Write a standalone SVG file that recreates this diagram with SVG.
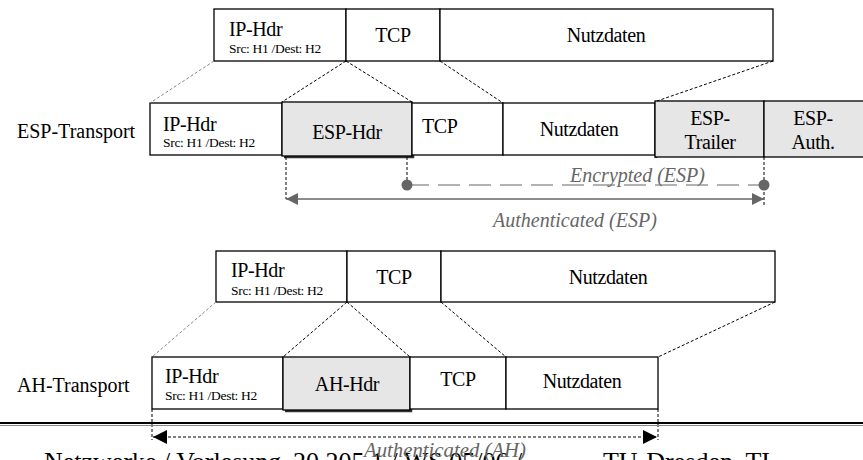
<svg xmlns="http://www.w3.org/2000/svg" width="863" height="460" viewBox="0 0 863 460">
<style>
  .box { fill: #ffffff; stroke: #000; stroke-width: 1.3; }
  .gbox { fill: #e6e6e6; stroke: #000; stroke-width: 1.3; }
  .shadow { fill: none; stroke: #333; stroke-width: 2.5; }
  .t { font-family: "Liberation Serif", "DejaVu Serif", serif; fill: #000; }
  .big { font-size: 20px; letter-spacing: -0.4px; }
  .small { font-size: 13.5px; letter-spacing: -0.3px; }
  .lbl { font-size: 20px; }
  .foot { font-size: 26px; }
  .it { font-family: "Liberation Serif", "DejaVu Serif", serif; font-style: italic; fill: #666; font-size: 20px; }
  .map1 { stroke: #888; stroke-width: 1; stroke-dasharray: 3 2; fill: none; }
  .map2 { stroke: #000; stroke-width: 1; stroke-dasharray: 3 2; fill: none; }
  .vdot { stroke: #000; stroke-width: 1; stroke-dasharray: 3 2; fill: none; }
</style>
<defs>
  <marker id="ga" viewBox="0 0 10 10" refX="10" refY="5" markerWidth="18" markerHeight="12" markerUnits="userSpaceOnUse" orient="auto-start-reverse">
    <path d="M0,0 L10,5 L0,10 Z" fill="#666"/>
  </marker>
  <marker id="ba" viewBox="0 0 10 10" refX="10" refY="5" markerWidth="18" markerHeight="14" markerUnits="userSpaceOnUse" orient="auto-start-reverse">
    <path d="M0,0 L10,5 L0,10 Z" fill="#000"/>
  </marker>
</defs>

<!-- ESP original packet -->
<g id="esp-orig">
  <rect class="box" x="214" y="9" width="132" height="52"/>
  <rect class="box" x="346" y="9" width="94" height="52"/>
  <rect class="box" x="440" y="9" width="333" height="52"/>
  <text class="t big" x="229" y="36">IP-Hdr</text>
  <text class="t small" x="229" y="53">Src: H1 /Dest: H2</text>
  <text class="t big" x="393" y="42" text-anchor="middle">TCP</text>
  <text class="t big" x="606" y="42" text-anchor="middle">Nutzdaten</text>
</g>

<!-- ESP transport packet -->
<g id="esp-label">
  <text class="t lbl" x="17" y="138">ESP-Transport</text>
</g>
<g id="esp-pkt">
  <rect class="box" x="150" y="103" width="132" height="52"/>
  <path class="shadow" d="M284,157 H413 V104"/>
  <rect class="gbox" x="282" y="102" width="130" height="54"/>
  <rect class="box" x="412" y="103" width="91" height="52"/>
  <rect class="box" x="503" y="103" width="152" height="52"/>
  <path class="shadow" d="M656,101 V158"/>
  <rect class="gbox" x="655" y="101" width="109" height="56"/>
  <rect class="gbox" x="764" y="101" width="100" height="56"/>
  <text class="t big" x="163" y="131">IP-Hdr</text>
  <text class="t small" x="163" y="147">Src: H1 /Dest: H2</text>
  <text class="t big" x="347" y="139" text-anchor="middle">ESP-Hdr</text>
  <text class="t big" x="422" y="133">TCP</text>
  <text class="t big" x="579" y="136" text-anchor="middle">Nutzdaten</text>
  <text class="t big" x="710" y="125" text-anchor="middle">ESP-</text>
  <text class="t big" x="710" y="149" text-anchor="middle">Trailer</text>
  <text class="t big" x="813" y="125" text-anchor="middle">ESP-</text>
  <text class="t big" x="813" y="149" text-anchor="middle">Auth.</text>
</g>

<!-- AH original packet -->
<g id="ah-orig">
  <rect class="box" x="216" y="251" width="131" height="51"/>
  <rect class="box" x="347" y="251" width="94" height="51"/>
  <rect class="box" x="441" y="251" width="334" height="51"/>
  <text class="t big" x="231" y="277">IP-Hdr</text>
  <text class="t small" x="231" y="295">Src: H1 /Dest: H2</text>
  <text class="t big" x="394" y="284" text-anchor="middle">TCP</text>
  <text class="t big" x="608" y="284" text-anchor="middle">Nutzdaten</text>
</g>

<!-- AH transport packet -->
<g id="ah-label">
  <text class="t lbl" x="17" y="392">AH-Transport</text>
</g>
<g id="ah-pkt">
  <rect class="box" x="152" y="357" width="131" height="52"/>
  <path class="shadow" d="M285,411 H411 V359"/>
  <rect class="gbox" x="283" y="357" width="127" height="53"/>
  <rect class="box" x="410" y="357" width="96" height="52"/>
  <rect class="box" x="506" y="357" width="152" height="52"/>
  <text class="t big" x="165" y="383">IP-Hdr</text>
  <text class="t small" x="165" y="400">Src: H1 /Dest: H2</text>
  <text class="t big" x="347" y="391" text-anchor="middle">AH-Hdr</text>
  <text class="t big" x="458" y="386" text-anchor="middle">TCP</text>
  <text class="t big" x="582" y="388" text-anchor="middle">Nutzdaten</text>
</g>

<!-- connectors -->
<g id="connectors">
  <line class="map1" x1="214" y1="61" x2="150" y2="103"/>
  <line class="map2" x1="346" y1="61" x2="282" y2="102"/>
  <line class="map2" x1="346" y1="61" x2="412" y2="102"/>
  <line class="map2" x1="440" y1="61" x2="503" y2="103"/>
  <line class="map2" x1="773" y1="61" x2="657" y2="101"/>
  <line class="vdot" x1="286" y1="157" x2="286" y2="199"/>
  <line class="vdot" x1="407" y1="157" x2="407" y2="185"/>
  <line class="vdot" x1="764" y1="157" x2="764" y2="205"/>
  <line x1="407" y1="185" x2="764" y2="185" stroke="#666" stroke-width="1.2" stroke-dasharray="22 9"/>
  <circle cx="407" cy="185" r="5.5" fill="#666"/>
  <circle cx="764" cy="185" r="5.5" fill="#666"/>
  <line x1="286" y1="199" x2="764" y2="199" stroke="#666" stroke-width="1.5" marker-start="url(#ga)" marker-end="url(#ga)"/>
  <line class="map1" x1="216" y1="302" x2="152" y2="357"/>
  <line class="map2" x1="347" y1="302" x2="283" y2="357"/>
  <line class="map2" x1="347" y1="302" x2="410" y2="357"/>
  <line class="map2" x1="441" y1="302" x2="506" y2="357"/>
  <line class="map2" x1="775" y1="302" x2="658" y2="357"/>
  <line class="vdot" x1="152" y1="409" x2="152" y2="440"/>
  <line class="vdot" x1="658" y1="409" x2="658" y2="440"/>
  <line x1="153" y1="437" x2="657" y2="437" stroke="#000" stroke-width="1.2" stroke-dasharray="3 2" marker-start="url(#ba)" marker-end="url(#ba)"/>
</g>

<!-- range labels -->
<g id="labels">
  <text class="it" x="570" y="182">Encrypted (ESP)</text>
  <text class="it" x="493" y="227">Authenticated (ESP)</text>
</g>

<!-- footer separator and footer text -->
<g id="footer">
  <line x1="0" y1="423" x2="863" y2="423" stroke="#000" stroke-width="2"/>
  <line x1="0" y1="425.5" x2="863" y2="425.5" stroke="#888" stroke-width="1"/>
  <text class="t foot" x="44" y="470">Netzwerke / Vorlesung</text>
  <text class="t foot" x="293" y="470">20.205 1 / WS 05/06 /</text>
  <text class="t foot" x="770" y="470" text-anchor="end">TU-Dresden, TI</text>
  <text class="it" x="364" y="457" font-size="21" textLength="162" lengthAdjust="spacingAndGlyphs">Authenticated (AH)</text>
</g>
</svg>
